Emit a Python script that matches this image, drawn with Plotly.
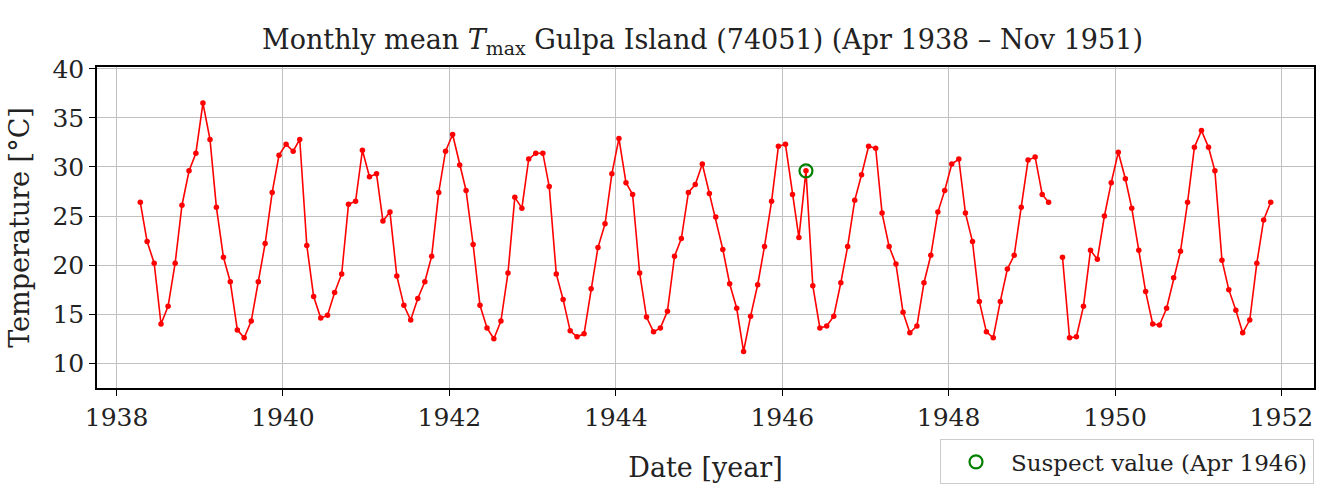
import pandas as pd
import plotly.graph_objects as go

# Monthly mean Tmax values (degC), Apr 1938 .. Nov 1951 (None = missing month)
start_month = "1938-04-01"
tmax = [
    # 1938 Apr-Dec
    26.4, 22.4, 20.2, 14.0, 15.8, 20.2, 26.1, 29.6, 31.4,
    # 1939
    36.5, 32.8, 25.9, 20.8, 18.3, 13.4, 12.6, 14.3, 18.3, 22.2, 27.4, 31.2,
    # 1940
    32.3, 31.6, 32.8, 22.0, 16.8, 14.6, 14.9, 17.2, 19.1, 26.2, 26.5, 31.7,
    # 1941
    29.0, 29.3, 24.5, 25.4, 18.9, 15.9, 14.4, 16.6, 18.3, 20.9, 27.4, 31.6,
    # 1942
    33.3, 30.2, 27.6, 22.1, 15.9, 13.6, 12.5, 14.3, 19.2, 26.9, 25.8, 30.8,
    # 1943
    31.4, 31.4, 28.0, 19.1, 16.5, 13.3, 12.7, 13.0, 17.6, 21.8, 24.2, 29.3,
    # 1944
    32.9, 28.4, 27.2, 19.2, 14.7, 13.2, 13.6, 15.3, 20.9, 22.7, 27.4, 28.2,
    # 1945
    30.3, 27.3, 24.9, 21.6, 18.1, 15.6, 11.2, 14.8, 18.0, 21.9, 26.5, 32.1,
    # 1946
    32.3, 27.2, 22.8, 29.6, 17.9, 13.6, 13.8, 14.8, 18.2, 21.9, 26.6, 29.2,
    # 1947
    32.1, 31.9, 25.3, 21.9, 20.1, 15.2, 13.1, 13.8, 18.2, 21.0, 25.4, 27.6,
    # 1948
    30.3, 30.8, 25.3, 22.4, 16.3, 13.2, 12.6, 16.3, 19.6, 21.0, 25.9, 30.7,
    # 1949
    31.0, 27.2, 26.4, None, 20.8, 12.6, 12.7, 15.8, 21.5, 20.6, 25.0, 28.4,
    # 1950
    31.5, 28.8, 25.8, 21.5, 17.3, 14.0, 13.9, 15.6, 18.7, 21.4, 26.4, 32.0,
    # 1951 Jan-Nov
    33.7, 32.0, 29.6, 20.5, 17.5, 15.4, 13.1, 14.4, 20.2, 24.6, 26.4,
]

suspect_date = ["1946-04-15"]
suspect_value = [29.6]
suspect_label = "Suspect value (Apr 1946)"

y_ticks = [10, 15, 20, 25, 30, 35, 40]
x_range = ["1937-10-07", "1952-05-23"]
y_range = [7.48, 40.18]

dates = pd.date_range(start_month, periods=len(tmax), freq="MS") + pd.Timedelta(days=14)

FONT = "DejaVu Serif"
TXT = "#222222"

fig = go.Figure()
fig.add_trace(go.Scatter(
    x=dates, y=tmax, mode="lines+markers",
    line=dict(color="#ff0000", width=1.6),
    marker=dict(color="#ff0000", size=5.5),
    connectgaps=False, showlegend=False,
))
fig.add_trace(go.Scatter(
    x=suspect_date, y=suspect_value, mode="markers",
    marker=dict(symbol="circle-open", color="#008000", size=13, line=dict(width=2.2, color="#008000")),
    name=suspect_label, showlegend=True,
))

axis_common = dict(
    showline=True, linecolor="black", linewidth=1.5, mirror=True,
    ticks="outside", ticklen=6, tickwidth=1.3, tickcolor="black",
    showgrid=True, gridcolor="#c0c0c0", gridwidth=1.2,
    zeroline=False, automargin=False,
    tickfont=dict(family=FONT, size=25, color=TXT),
)

fig.update_layout(
    width=1332, height=496,
    margin=dict(l=97, r=18, t=67, b=104),
    paper_bgcolor="white", plot_bgcolor="white",
    font=dict(family=FONT, color=TXT),
    title=dict(
        text="Monthly mean <i>T</i><sub>max</sub> Gulpa Island (74051) (Apr 1938 – Nov 1951)",
        x=0.5274, xanchor="center", y=0.92, yanchor="middle",
        font=dict(family=FONT, size=27, color=TXT),
    ),
    xaxis=dict(
        type="date", range=x_range, tick0="1938-01-01", dtick="M24", tickformat="%Y",
        title=dict(text="Date [year]", font=dict(family=FONT, size=27), standoff=27),
        **axis_common,
    ),
    yaxis=dict(
        range=y_range, tickvals=y_ticks,
        title=dict(text="Temperature [°C]", font=dict(family=FONT, size=27), standoff=15),
        **axis_common,
    ),
    legend=dict(
        x=1.0, xanchor="right", y=-0.16, yanchor="top",
        bordercolor="#cccccc", borderwidth=1, bgcolor="white",
        itemwidth=60,
        font=dict(family=FONT, size=23, color=TXT),
    ),
)

fig.write_html("out.html")
